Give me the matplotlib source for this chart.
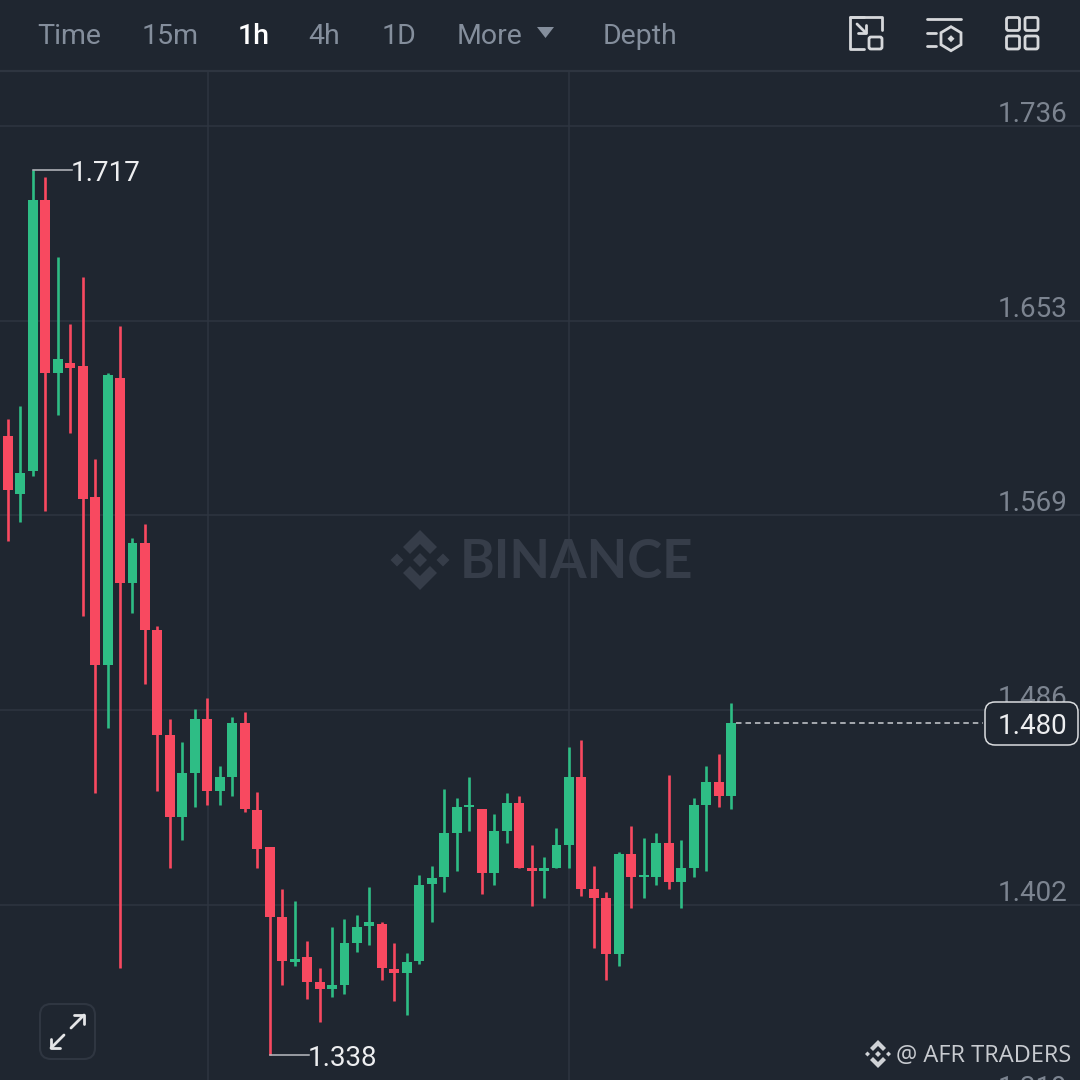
import matplotlib
matplotlib.use("Agg")
import matplotlib.pyplot as plt
from matplotlib.patches import FancyBboxPatch, Polygon, Rectangle

# ---- data (prices) ----
candle_index = list(range(-1, 59))
highs = [1.6052, 1.6103, 1.6159, 1.7171, 1.7141, 1.6798, 1.6511, 1.6712, 1.5932, 1.6301, 1.6502,
         1.5593, 1.5653, 1.5216, 1.4817, 1.4718, 1.4860, 1.4907, 1.4616, 1.4826, 1.4847,
         1.4504, 1.4268, 1.4088, 1.4037, 1.3865, 1.3749, 1.3925, 1.3960, 1.3977, 1.4097,
         1.3947, 1.3857, 1.3814, 1.4148, 1.4187, 1.4517, 1.4478, 1.4568, 1.4431, 1.4410,
         1.4500, 1.4487, 1.4277, 1.4225, 1.4350, 1.4697, 1.4727, 1.4187, 1.4075, 1.4247,
         1.4358, 1.4307, 1.4328, 1.4577, 1.4298, 1.4478, 1.4616, 1.4667, 1.4886]
lows = [1.6039, 1.5580, 1.5662, 1.5859, 1.5709, 1.6120, 1.6043, 1.5259, 1.4500, 1.4779, 1.3749,
        1.5272, 1.4967, 1.4508, 1.4178, 1.4298, 1.4440, 1.4448, 1.4448, 1.4487, 1.4418,
        1.4178, 1.3377, 1.3677, 1.3758, 1.3617, 1.3518, 1.3625, 1.3638, 1.3818, 1.3848,
        1.3698, 1.3608, 1.3548, 1.3767, 1.3947, 1.4075, 1.4165, 1.4337, 1.4067, 1.4105,
        1.4285, 1.4178, 1.4015, 1.4050, 1.4178, 1.4178, 1.4058, 1.3835, 1.3698, 1.3758,
        1.4007, 1.4050, 1.4105, 1.4088, 1.4007, 1.4140, 1.4165, 1.4440, 1.4431]
opens = [1.6039, 1.6030, 1.5782, 1.5880, 1.7042, 1.6301, 1.6343, 1.6331, 1.5769, 1.5049, 1.6279,
         1.5400, 1.5572, 1.5199, 1.4748, 1.4397, 1.4586, 1.4817, 1.4508, 1.4568, 1.4800,
         1.4427, 1.4268, 1.3968, 1.3775, 1.3797, 1.3689, 1.3659, 1.3677, 1.3857, 1.3930,
         1.3938, 1.3745, 1.3728, 1.3780, 1.4110, 1.4140, 1.4328, 1.4440, 1.4431, 1.4157,
         1.4337, 1.4457, 1.4178, 1.4165, 1.4178, 1.4277, 1.4568, 1.4088, 1.4050, 1.3810,
         1.4238, 1.4140, 1.4140, 1.4285, 1.4118, 1.4178, 1.4448, 1.4547, 1.4487]
closes = [1.6052, 1.5799, 1.5872, 1.7042, 1.6301, 1.6361, 1.6322, 1.5760, 1.5049, 1.6292, 1.5400,
          1.5572, 1.5199, 1.4748, 1.4397, 1.4586, 1.4817, 1.4508, 1.4568, 1.4800, 1.4431,
          1.4260, 1.3968, 1.3780, 1.3788, 1.3689, 1.3659, 1.3677, 1.3857, 1.3925, 1.3947,
          1.3749, 1.3728, 1.3775, 1.4105, 1.4135, 1.4328, 1.4440, 1.4448, 1.4157, 1.4337,
          1.4457, 1.4178, 1.4165, 1.4178, 1.4277, 1.4568, 1.4088, 1.4050, 1.3810, 1.4238,
          1.4140, 1.4148, 1.4285, 1.4118, 1.4178, 1.4448, 1.4547, 1.4487, 1.4800]
price_ticks = [1.7360, 1.6525, 1.5690, 1.4855, 1.4020, 1.3185]
price_labels = ["1.736", "1.653", "1.569", "1.486", "1.402", "1.319"]
vgrid_candles = [16, 45]
peak_value, peak_candle, peak_label = 1.7171, 2, "1.717"
trough_value, trough_candle, trough_label = 1.3377, 21, "1.338"
last_price, last_label = 1.4800, "1.480"
nav_labels = ["Time", "15m", "1h", "4h", "1D", "More", "Depth"]
nav_left = [37, 142, 238, 308, 382, 457, 603]

BG = "#1F2630"
GRID = "#2E3540"
GREEN = "#2EBD85"
RED = "#F84960"
MUTED = "#7C8490"
NAVC = "#848E9C"
WHITE = "#EDEEF0"
ICON = "#D6D8DB"
FONT = "Roboto"
XLIM = (-0.625, 85.98)
YLIM = (1.32697, 1.78998)

fig = plt.figure(figsize=(10.8, 10.8), dpi=100, facecolor=BG)
ax = fig.add_axes([0, 0, 1, 1], facecolor=BG)
ax.set_xlim(-0.6656, 85.94)
ax.set_ylim(YLIM)
ax.axis("off")

# grid
for v in price_ticks:
    ax.axhline(v, color=GRID, lw=1.1, zorder=1)
for c in vgrid_candles:
    ax.axvline(c, color=GRID, lw=1.1, zorder=1)

# watermark sits under candles
ui_back = fig.add_axes([0, 0, 1, 1], facecolor="none")
ui_back.set_xlim(0, 1080)
ui_back.set_ylim(1080, 0)
ui_back.axis("off")
ui_back.set_zorder(ax.get_zorder() + 1)

def diamond(a, cx, cy, r, color, **kw):
    a.add_patch(Polygon([(cx, cy - r), (cx + r, cy), (cx, cy + r), (cx - r, cy)],
                        closed=True, fc=color, ec="none", **kw))

def chevron(a, cx, cy, r, t, up, color):
    s = -1 if up else 1
    pts = [(cx - r, cy), (cx, cy + s * r), (cx + r, cy),
           (cx + r - t, cy - s * t), (cx, cy + s * (r - 2 * t)), (cx - r + t, cy - s * t)]
    a.add_patch(Polygon(pts, closed=True, fc=color, ec="none"))

WM = "#363D49"
diamond(ui_back, 420, 560, 7, WM)
diamond(ui_back, 397, 560, 6.5, WM)
diamond(ui_back, 443, 560, 6.5, WM)
chevron(ui_back, 420, 547, 17, 7, True, WM)
chevron(ui_back, 420, 573, 17, 7, False, WM)
ui_back.text(576, 563, "BINANCE", family="Lato", fontweight="bold", fontsize=38, color=WM,
             ha="center", va="center")

# candles
front = fig.add_axes([0, 0, 1, 1], facecolor="none")
front.set_xlim(XLIM)
front.set_ylim(YLIM)
front.axis("off")
front.set_zorder(ui_back.get_zorder() + 1)
colors = [GREEN if c >= o else RED for o, c in zip(opens, closes)]
front.vlines(candle_index, lows, highs, colors=colors, lw=1.9, zorder=3)
front.bar(candle_index, [abs(c - o) for o, c in zip(opens, closes)],
          bottom=[min(o, c) for o, c in zip(opens, closes)],
          width=0.8, color=colors, linewidth=0, zorder=4)

# peak / trough markers
lead = 39 / 12.47
DROP = -2.4  # points: text sits a little below the geometric centre
for cand, val, lab in [(peak_candle, peak_value, peak_label), (trough_candle, trough_value, trough_label)]:
    front.plot([cand, cand + lead], [val, val], color="#B9BCC2", lw=1.1, zorder=5)
    front.annotate(lab, xy=(cand + lead, val), xytext=(-1, DROP), textcoords="offset points",
                   family=FONT, fontsize=20, color=WHITE, ha="left", va="center", zorder=5)

# price labels
for v, lab in zip(price_ticks, price_labels):
    front.annotate(lab, xy=(1, v), xycoords=("axes fraction", "data"),
                   xytext=(-8.8, 10.8 + DROP), textcoords="offset points",
                   ha="right", va="center", family=FONT, fontsize=20, color=MUTED, zorder=2,
                   annotation_clip=False)

# last price
front.plot([58.4, 78.2], [last_price, last_price], color="#C9CCD1", lw=1.1, ls=(0, (3.6, 2.6)), zorder=5)

ui = fig.add_axes([0, 0, 1, 1], facecolor="none")
ui.set_xlim(0, 1080)
ui.set_ylim(1080, 0)
ui.axis("off")
ui.set_zorder(front.get_zorder() + 1)

ui.add_patch(FancyBboxPatch((985, 702), 93, 43, boxstyle="round,pad=0,rounding_size=10",
                            fc=BG, ec="#DADCDF", lw=1.1))
ui.text(1067, 726, last_label, family=FONT, fontsize=20, color=WHITE, ha="right", va="center")

# top bar
ui.add_patch(Rectangle((0, 0), 1080, 70.5, fc=BG, ec="none"))
ui.plot([0, 1080], [71, 71], color=GRID, lw=1.6)
for lab, x in zip(nav_labels, nav_left):
    active = lab == "1h"
    ui.text(x, 36, lab, family=FONT, fontsize=20.5, ha="left", va="center",
            color="#FFFFFF" if active else NAVC, fontweight="medium" if active else "normal")
ui.add_patch(Polygon([(537, 27), (554, 27), (545.5, 38)], closed=True, fc=NAVC, ec="none"))

# icons
def line(xs, ys, lw=2.0, color=ICON):
    ui.plot(xs, ys, color=color, lw=lw, solid_capstyle="round", solid_joinstyle="round")

line([864, 850, 850, 864], [49, 49, 17, 17])
line([850, 882, 882], [17, 17, 30])
ui.add_patch(FancyBboxPatch((869, 37), 13, 12, boxstyle="round,pad=0,rounding_size=2", fc="none", ec=ICON, lw=2.0))
line([857, 866], [24, 33])
line([858, 866, 866], [33, 33, 25])

line([927, 961], [19, 19])
line([927, 936], [33, 33])
line([927, 936], [46, 46])
cx, cy = 951, 38.7
ui.add_patch(Polygon([(cx, cy - 12), (cx + 10, cy - 6), (cx + 10, cy + 6), (cx, cy + 12),
                      (cx - 10, cy + 6), (cx - 10, cy - 6)], closed=True, fc="none", ec=ICON, lw=2.0))
diamond(ui, cx, cy, 3.5, ICON)

for x0 in (1006.5, 1025):
    for y0 in (17.5, 36):
        ui.add_patch(FancyBboxPatch((x0, y0), 13, 13, boxstyle="round,pad=0,rounding_size=2",
                                    fc="none", ec=ICON, lw=2.0))

# expand button
ui.add_patch(FancyBboxPatch((40, 1004), 55, 55, boxstyle="round,pad=0,rounding_size=11",
                            fc="none", ec="#2F3641", lw=1.5))
line([71, 84], [1028, 1015], lw=2.0, color="#E4E5E7")
line([74, 84, 84], [1015, 1015, 1024], lw=2.0, color="#E4E5E7")
line([64, 51], [1035, 1048], lw=2.0, color="#E4E5E7")
line([51, 51, 60], [1039, 1048, 1048], lw=2.0, color="#E4E5E7")

# credit
LOGO = "#CFD2D6"
diamond(ui, 878, 1054, 3, LOGO)
diamond(ui, 867.5, 1054, 2.5, LOGO)
diamond(ui, 888.5, 1054, 2.5, LOGO)
chevron(ui, 878, 1048, 8, 3, True, LOGO)
chevron(ui, 878, 1060, 8, 3, False, LOGO)
ui.text(1071, 1056, "@ AFR TRADERS", family="Open Sans", fontsize=17, color="#C8CBD0",
        ha="right", va="center")

fig.savefig("out.png", dpi=100, facecolor=BG)
